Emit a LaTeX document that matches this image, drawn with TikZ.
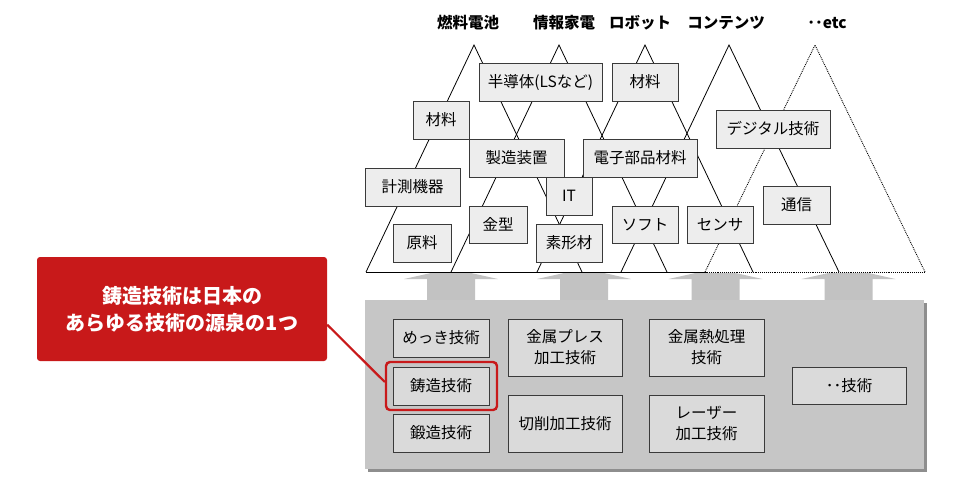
\documentclass[tikz,border=0pt]{standalone}
\usepackage{fontspec}
\setmainfont{Noto Sans CJK JP}
\usetikzlibrary{calc}
\definecolor{tfill}{HTML}{EDEDED}
\definecolor{bfill}{HTML}{DADADA}
\definecolor{panel}{HTML}{C6C6C6}
\definecolor{panelsh}{HTML}{8E8E8E}
\definecolor{arrowgray}{HTML}{C2C2C2}
\definecolor{edge}{HTML}{3A3A3A}
\definecolor{calloutred}{HTML}{C8191A}
\begin{document}
\begin{tikzpicture}[x=1pt,y=-1pt,
  tbox/.style={draw=edge,line width=0.9pt,fill=tfill,inner sep=0pt,
    font=\fontsize{15.5}{20}\selectfont,align=center},
  bbox/.style={draw=edge,line width=0.9pt,fill=bfill,inner sep=0pt,
    font=\fontsize{15.5}{21}\selectfont,align=center},
  tri/.style={draw=black,line width=0.8pt},
  dtri/.style={draw=black,line width=0.9pt,densely dotted},
  toplabel/.style={font=\fontsize{15.5}{18}\selectfont\bfseries,inner sep=0pt},
  uparrow/.style={fill=arrowgray,draw=none}
]
\useasboundingbox (0,0) rectangle (960,483);

% top labels
\node[toplabel] (l1) at (468,23) {燃料電池};
\node[toplabel] (l2) at (564,23) {情報家電};
\node[toplabel] (l3) at (640,23) {ロボット};
\node[toplabel] (l4) at (726,23) {コンテンツ};
\node[toplabel] (l5) at (827,23) {･･etc};

% triangles
\draw[tri] (366,272) -- (474,45) -- (582,272);
\draw[tri] (451,272) -- (559,45) -- (667,272);
\draw[tri] (537,272) -- (645,45) -- (753,272);
\draw[tri] (621,272) -- (729,45) -- (839,272);
\draw[dtri] (705,272) -- (815,45) -- (925,272);
\draw[tri] (366,272) -- (707,272);
\draw[dtri] (707,272) -- (925,272);

% boxes in the triangles
\node[tbox,minimum width=123pt,minimum height=38pt] (han) at (540.5,82) {半導体(LSなど)};
\node[tbox,minimum width=66pt,minimum height=38pt] (zaiR) at (645,82) {材料};
\node[tbox,minimum width=56pt,minimum height=38pt] (zaiL) at (441,120) {材料};
\node[tbox,minimum width=95pt,minimum height=38pt] (seizo) at (516.5,158) {製造装置};
\node[tbox,minimum width=114pt,minimum height=38pt] (denshi) at (640,158) {電子部品材料};
\node[tbox,minimum width=95pt,minimum height=38pt] (keisoku) at (412.5,187) {計測機器};
\node[tbox,minimum width=46pt,minimum height=38pt] (it) at (569,196) {IT};
\node[tbox,minimum width=58pt,minimum height=37pt] (kanagata) at (498,224.5) {金型};
\node[tbox,minimum width=58pt,minimum height=38pt] (genryo) at (422,243) {原料};
\node[tbox,minimum width=66pt,minimum height=38pt] (sokei) at (569,243) {素形材};
\node[tbox,minimum width=66pt,minimum height=37pt] (soft) at (645,224.5) {ソフト};
\node[tbox,minimum width=66pt,minimum height=37pt] (sensa) at (720,224.5) {センサ};
\node[tbox,minimum width=114pt,minimum height=38pt] (digital) at (773,129) {デジタル技術};
\node[tbox,minimum width=67pt,minimum height=38pt] (tsushin) at (796.5,205) {通信};

% arrows
\foreach \cx in {451,584,715.5,848.5}{
  \fill[uparrow] (\cx-24,301) -- (\cx-24,279) -- (\cx-47,279) -- (\cx-20,273)
     -- (\cx+20,273) -- (\cx+47,279) -- (\cx+24,279) -- (\cx+24,301) -- cycle;
}

% panel
\fill[panelsh] (368,303) rectangle (927,472);
\fill[panel] (365,300) rectangle (924,469);

% bottom boxes
\node[bbox,minimum width=96pt,minimum height=38pt] (mekki) at (441,338) {めっき技術};
\node[bbox,minimum width=96pt,minimum height=38pt] (chuzo) at (441,386) {鋳造技術};
\node[bbox,minimum width=96pt,minimum height=38pt] (tanzo) at (441,433) {鍛造技術};
\node[bbox,minimum width=114pt,minimum height=57pt] (press) at (565,347.5) {金属プレス\\加工技術};
\node[bbox,minimum width=114pt,minimum height=57pt] (sessaku) at (565,423.5) {切削加工技術};
\node[bbox,minimum width=115pt,minimum height=57pt] (netsu) at (706.5,347.5) {金属熱処理\\技術};
\node[bbox,minimum width=115pt,minimum height=57pt] (laser) at (706.5,423.5) {レーザー\\加工技術};
\node[bbox,minimum width=114pt,minimum height=37pt] (etcg) at (849,385.5) {･･技術};

% highlight
\node[draw=calloutred,line width=2.4pt,rounded corners=4pt,minimum width=111pt,minimum height=48pt,inner sep=0pt] (hl) at (441.5,386) {};

% callout
\node[fill=calloutred,rounded corners=3pt,minimum width=290pt,minimum height=104pt,inner sep=0pt,
  text=white,align=center,font=\fontsize{20}{27}\selectfont\bfseries] (callout) at (182,309)
  {鋳造技術は日本の\\あらゆる技術の源泉の1つ};
\draw[calloutred,line width=2.2pt] ($(callout.south east)!0.35!(callout.north east)$) -- ($(hl.south west)!0.58!(hl.north west)$);
\end{tikzpicture}
\end{document}
